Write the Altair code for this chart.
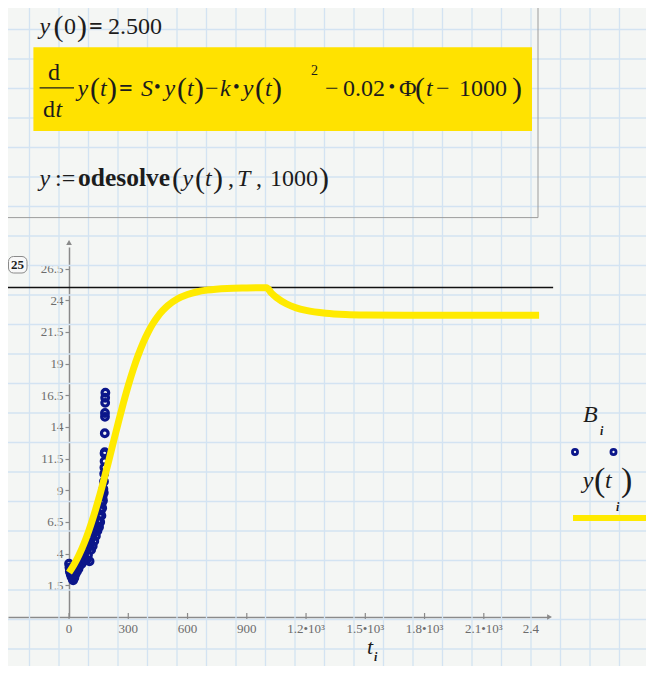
import altair as alt
import pandas as pd
import numpy as np

# ---------------- data ----------------
T_B = [0, 2, 4, 6, 8, 10, 12, 15, 18, 21, 24, 27, 30, 33, 36, 40, 44, 48, 52, 56, 60, 64,
       68, 72, 76, 80, 84, 88, 92, 96, 100, 104, 108, 112, 116, 120, 124, 128, 132, 136,
       140, 144, 148, 152, 155, 158, 161, 164, 166, 168, 170, 172, 174, 176, 177, 178,
       179, 180, 180, 181, 181, 182, 182, 183, 183, 184]
B = [3.2, 2.9, 2.6, 2.7, 2.4, 2.5, 2.2, 2.3, 2.0, 1.9, 2.3, 2.1, 2.6, 2.4, 2.8, 2.6, 3.0,
     2.8, 3.3, 3.1, 3.5, 3.2, 3.7, 3.4, 3.9, 3.6, 4.2, 3.5, 4.4, 3.9, 4.7, 3.4, 4.9, 4.3,
     5.3, 4.6, 5.6, 5.0, 5.9, 5.4, 6.2, 5.8, 6.6, 6.1, 7.0, 6.5, 7.4, 7.0, 8.0, 7.6, 8.5,
     8.2, 9.1, 8.8, 9.7, 10.3, 10.8, 11.3, 11.9, 12.0, 13.5, 14.8, 15.1, 15.9, 16.3, 16.7]

T_Y = [0, 25, 50, 75, 100, 125, 150, 175, 200, 225, 250, 275, 300, 325, 350, 375, 400,
       425, 450, 475, 500, 550, 600, 650, 700, 800, 900, 1000, 1025, 1050, 1100, 1150,
       1200, 1300, 1400, 1500, 1700, 2000, 2380]
Y_Y = [2.5, 3.12, 3.87, 4.76, 5.80, 6.99, 8.31, 9.75, 11.27, 12.83, 14.38, 15.87, 17.27,
       18.53, 19.65, 20.63, 21.46, 22.16, 22.73, 23.19, 23.57, 24.11, 24.45, 24.67, 24.80,
       24.93, 24.97, 24.99, 24.56, 24.21, 23.72, 23.40, 23.20, 22.98, 22.88, 22.84, 22.82,
       22.81, 22.81]

Y_TICKS = [1.5, 4, 6.5, 9, 11.5, 14, 16.5, 19, 21.5, 24, 26.5]
X_TICKS = [0, 300, 600, 900, 1200, 1500, 1800, 2100]
X_LABELS = ["0", "300", "600", "900", "1.2•10³", "1.5•10³", "1.8•10³", "2.1•10³"]
X_LAST_TICK = [2400]
X_LAST_LABEL = ["2.4"]
REF_LEVEL = 25
REF_SPAN = [-324, 2451]

# ---------------- layout ----------------
X_DOMAIN = [-309, 2425]
Y_DOMAIN = [-1, 28.2]
W, H = 540, 370
OX, OY = 8, 247          # page position of the plot origin
BG = "#f4f6f4"
GRID = "#d3e3f2"
AXC = "#8a8a8a"
INK = "#1c1c1c"
NAVY = "#0b168a"
YEL = "#ffea00"
YEL_BOX = "#ffe200"
FONT = "Liberation Serif"


def px(x):
    return x - OX


def py(y):
    return y - OY


xs = alt.Scale(domain=X_DOMAIN, nice=False, zero=False)
ys = alt.Scale(domain=Y_DOMAIN, nice=False, zero=False)
AX_X = alt.Axis(labels=False, ticks=False, grid=False, title=None, domainColor=AXC,
                domainWidth=1.5)
AX_Y = alt.Axis(values=Y_TICKS, format=".1~f", grid=False, title=None, offset=-61,
                tickSize=4, tickColor=AXC, tickWidth=1.2, labelPadding=2,
                labelFont=FONT, labelFontSize=13, labelColor="#6c6c6c",
                domainColor=AXC, domainWidth=1.5)

one = pd.DataFrame({"a": [0]})

# background grid (decorative, pixel positions)
g_rows = []
for k in range(23):
    g_rows.append({"x1": px(29.5 * k), "x2": px(29.5 * k), "y1": py(0), "y2": py(680)})
for k in range(24):
    g_rows.append({"x1": px(0), "x2": px(660), "y1": py(29.5 * k), "y2": py(29.5 * k)})
grid = alt.Chart(pd.DataFrame(g_rows)).mark_rule(color=GRID, strokeWidth=1.3).encode(
    x=alt.X("x1:Q", scale=None, axis=None), x2="x2:Q",
    y=alt.Y("y1:Q", scale=None, axis=None), y2="y2:Q")

# formula region
box = alt.Chart(one).mark_rect(fillOpacity=0.0, stroke="#9c9c9c", strokeWidth=1).encode(
    x=alt.value(px(3)), x2=alt.value(px(538)), y=alt.value(py(3)), y2=alt.value(py(217.6)))
ybox = alt.Chart(one).mark_rect(color=YEL_BOX).encode(
    x=alt.value(px(33.4)), x2=alt.value(px(532)), y=alt.value(py(47.2)), y2=alt.value(py(130.9)))
fbar = alt.Chart(one).mark_rule(color=INK, strokeWidth=1.2).encode(
    x=alt.value(px(39.6)), x2=alt.value(px(74)), y=alt.value(py(87.8)))
lbl_box = alt.Chart(one).mark_rect(fill="#f8f8f8", stroke="#8a8a8a", strokeWidth=1,
                                   cornerRadius=5).encode(
    x=alt.value(px(8.5)), x2=alt.value(px(27)), y=alt.value(py(256.5)), y2=alt.value(py(273)))

# text segments: (text, page x, page baseline y, kind)
P = 2
ANN = [
    ("y", 39.6, 34, "it"), ("(", 53.5, 34 + P, "par"), ("0", 64, 34, "rm"), (")", 77, 34 + P, "par"),
    ("=", 89, 34, "bd"), ("2.500", 108, 34, "rm"),
    ("d", 48, 80, "rm"), ("d", 43, 117, "rm"), ("t", 55.5, 117, "it"),
    ("y", 77.5, 96, "it"), ("(", 90, 96 + P, "par"), ("t", 100, 96, "it"), (")", 107, 96 + P, "par"),
    ("=", 119, 96, "bd"), ("S", 141, 96, "it"), ("•", 154, 93, "dot"),
    ("y", 164.6, 96, "it"), ("(", 177, 96 + P, "par"), ("t", 187, 96, "it"), (")", 194, 96 + P, "par"),
    ("−", 205, 96, "rm"), ("k", 220, 96, "it"), ("•", 233, 93, "dot"),
    ("y", 242.8, 96, "it"), ("(", 255, 96 + P, "par"), ("t", 265, 96, "it"), (")", 272, 96 + P, "par"),
    ("2", 311, 75, "sup"), ("−", 325, 96, "rm"), ("0.02", 343, 96, "rm"), ("•", 388.5, 93, "dot"),
    ("Φ", 399, 96, "rm"), ("(", 415, 96 + P, "par"), ("t", 426, 96, "it"), ("−", 436, 96, "rm"),
    ("1000", 459, 96, "rm"), (")", 512, 96 + P, "par"),
    ("y", 39.6, 186, "it"), (":=", 55, 186, "rm"), ("odesolve", 78, 186, "bd2"),
    ("(", 172, 186 + P, "par"), ("y", 182.5, 186, "it"), ("(", 195, 186 + P, "par"),
    ("t", 205, 186, "it"), (")", 213, 186 + P, "par"), (",", 228, 186, "rm"),
    ("T", 237, 186, "it"), (",", 256, 186, "rm"), ("1000", 270, 186, "rm"),
    (")", 319, 186 + P, "par"),
    ("25", 11, 269, "lbl"),
    ("t", 367, 654, "tt"), ("i", 374, 661, "sub"),
    ("B", 583, 421.7, "it"), ("i", 600, 435, "sub"),
    ("y", 582.7, 488, "it"), ("(", 594, 491, "bigpar"), ("t", 605, 488, "it"),
    ("i", 616, 511, "sub"), (")", 621, 491, "bigpar"),
]
ann = pd.DataFrame([{"s": s, "x": px(x), "y": py(y), "k": k} for s, x, y, k in ANN])
STYLES = {
    "it": dict(fontSize=24, fontStyle="italic"),
    "tt": dict(fontSize=22, fontStyle="italic"),
    "rm": dict(fontSize=24),
    "bd": dict(fontSize=24, fontWeight="bold"),
    "bd2": dict(fontSize=25.5, fontWeight="bold"),
    "par": dict(fontSize=30),
    "bigpar": dict(fontSize=34),
    "sup": dict(fontSize=14),
    "sub": dict(fontSize=12, fontStyle="italic", fontWeight="bold"),
    "dot": dict(fontSize=19),
    "lbl": dict(fontSize=13, fontWeight="bold"),
}
text_layers = []
for k, st in STYLES.items():
    text_layers.append(
        alt.Chart(ann).transform_filter(alt.datum.k == k).mark_text(
            align="left", baseline="alphabetic", font=FONT, color=INK, **st).encode(
            x=alt.X("x:Q", scale=None, axis=None), y=alt.Y("y:Q", scale=None, axis=None),
            text="s:N"))

# plot content
ref = alt.Chart(pd.DataFrame({"t": [REF_SPAN[0]], "t2": [REF_SPAN[1]], "v": [REF_LEVEL]})).mark_rule(
    color="#111111", strokeWidth=1.4).encode(
    x=alt.X("t:Q", scale=xs, axis=AX_X), x2="t2:Q", y=alt.Y("v:Q", scale=ys, axis=AX_Y))

pts = alt.Chart(pd.DataFrame({"t": T_B, "v": B})).mark_point(
    shape="circle", filled=False, size=44, strokeWidth=3.2, color=NAVY, opacity=1).encode(
    x=alt.X("t:Q", scale=xs, axis=AX_X), y=alt.Y("v:Q", scale=ys, axis=AX_Y))

curve = alt.Chart(pd.DataFrame({"t": T_Y, "v": Y_Y})).mark_line(
    color=YEL, strokeWidth=7, interpolate="monotone", strokeCap="butt").encode(
    x=alt.X("t:Q", scale=xs, axis=AX_X), y=alt.Y("v:Q", scale=ys, axis=AX_Y))

xt = alt.Chart(pd.DataFrame({"t": X_TICKS, "lab": X_LABELS}))
xticks = xt.mark_rule(color=AXC, strokeWidth=1.2).encode(
    x=alt.X("t:Q", scale=xs, axis=AX_X), y=alt.value(H - 4), y2=alt.value(H + 2))
xlabels = xt.mark_text(font=FONT, fontSize=13, color="#6c6c6c", baseline="middle").encode(
    x=alt.X("t:Q", scale=xs, axis=AX_X), y=alt.value(H + 12), text="lab:N")
xlast = alt.Chart(pd.DataFrame({"t": X_LAST_TICK, "lab": X_LAST_LABEL})).mark_text(
    font=FONT, fontSize=13, color="#6c6c6c", baseline="middle", align="right", dx=-4).encode(
    x=alt.X("t:Q", scale=xs, axis=AX_X), y=alt.value(H + 12), text="lab:N")

arrows_up = alt.Chart(pd.DataFrame({"t": [0], "v": [Y_DOMAIN[1] + 0.35]})).mark_point(
    shape="triangle-up", filled=True, size=32, color=AXC, opacity=1).encode(
    x=alt.X("t:Q", scale=xs, axis=AX_X), y=alt.Y("v:Q", scale=ys, axis=AX_Y))
arrows_right = alt.Chart(pd.DataFrame({"t": [X_DOMAIN[1] + 8], "v": [Y_DOMAIN[0]]})).mark_point(
    shape="triangle-right", filled=True, size=32, color=AXC, opacity=1).encode(
    x=alt.X("t:Q", scale=xs, axis=AX_X), y=alt.Y("v:Q", scale=ys, axis=AX_Y))

# legend (Mathcad-style, at the right)
leg_pts = alt.Chart(pd.DataFrame({"lx": [px(575), px(613.5), px(650)], "ly": [py(452)] * 3})).mark_point(
    shape="circle", filled=False, size=26, strokeWidth=2.8, color=NAVY, opacity=1).encode(
    x=alt.X("lx:Q", scale=None, axis=None), y=alt.Y("ly:Q", scale=None, axis=None))
leg_line = alt.Chart(one).mark_rule(color=YEL, strokeWidth=6).encode(
    x=alt.value(px(573)), x2=alt.value(px(660)), y=alt.value(py(518)))

chart = alt.layer(
    grid, box, ybox, fbar, lbl_box, *text_layers,
    ref, pts, curve, xticks, xlabels, xlast, arrows_up, arrows_right,
    leg_pts, leg_line,
).properties(
    width=W, height=H,
    autosize=alt.AutoSizeParams(type="none"),
    padding={"left": 0, "top": OY - 8, "right": 638 - W, "bottom": 658 - (OY - 8) - H},
).configure(background=BG).configure_view(stroke=None)

chart.save("out.html", embed_options={"renderer": "svg", "actions": False})
